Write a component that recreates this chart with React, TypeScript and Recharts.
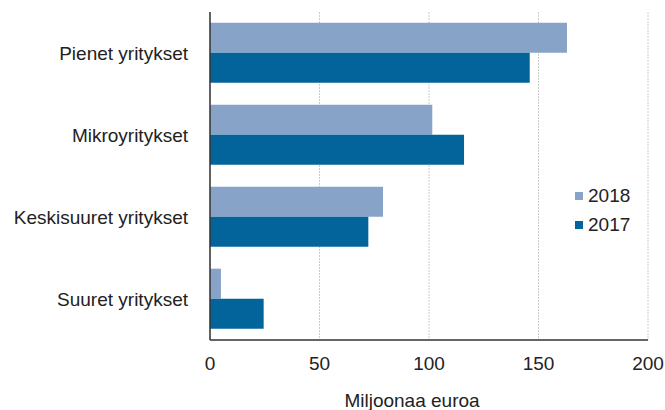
import React from 'react';
import { BarChart, Bar, XAxis, YAxis, CartesianGrid, Legend } from 'recharts';

const categories = ['Pienet yritykset', 'Mikroyritykset', 'Keskisuuret yritykset', 'Suuret yritykset'];
const values2018 = [163, 101.5, 79, 5];
const values2017 = [146, 116, 72.3, 24.5];
const xTicks = [0, 50, 100, 150, 200];
const seriesNames = ['2018', '2017'];
const seriesColors = ['#87a3c7', '#03649b'];

const data = categories.map((c, i) => ({ name: c, y2018: values2018[i], y2017: values2017[i] }));

const FONT = '"Liberation Sans", Arial, sans-serif';
const TEXT = '#222222';

const LegendContent = () => (
  <div style={{ fontFamily: FONT, fontSize: 19, color: TEXT }}>
    {seriesNames.map((n, i) => (
      <div key={n} style={{ display: 'flex', alignItems: 'center', height: 29 }}>
        <span style={{ display: 'inline-block', width: 8, height: 8, background: seriesColors[i], marginRight: 5 }} />
        <span>{n}</span>
      </div>
    ))}
  </div>
);

export default function App() {
  return (
    <div style={{ position: 'absolute', left: 0, top: 0, width: 665, height: 410, background: '#fff' }}>
      <BarChart
        width={665}
        height={410}
        data={data}
        layout="vertical"
        margin={{ top: 12, right: 17, left: 0, bottom: 0 }}
        barCategoryGap="13%"
        barGap={0}
      >
        <CartesianGrid horizontal={false} vertical={true} stroke="#cccccc" strokeDasharray="2 1" />
        <XAxis
          type="number"
          domain={[0, 200]}
          ticks={xTicks}
          height={70}
          tickLine={false}
          tickSize={0}
          tickMargin={17}
          axisLine={{ stroke: '#333333', strokeWidth: 1.5 }}
          tick={{ fill: TEXT, fontSize: 19, fontFamily: FONT }}
          label={{ value: 'Miljoonaa euroa', position: 'insideBottom', offset: 3, dx: -17, fill: TEXT, fontSize: 19, fontFamily: FONT }}
        />
        <YAxis
          type="category"
          dataKey="name"
          width={210}
          tickLine={false}
          tickSize={0}
          tickMargin={22}
          axisLine={{ stroke: '#333333', strokeWidth: 1.5 }}
          tick={{ fill: TEXT, fontSize: 19, fontFamily: FONT }}
        />
        <Legend
          layout="horizontal"
          verticalAlign="middle"
          align="center"
          content={<LegendContent />}
          wrapperStyle={{ position: 'absolute', left: 575, top: 181, width: 80 }}
        />
        <Bar dataKey="y2018" name={seriesNames[0]} fill={seriesColors[0]} isAnimationActive={false} />
        <Bar dataKey="y2017" name={seriesNames[1]} fill={seriesColors[1]} isAnimationActive={false} />
      </BarChart>
    </div>
  );
}
